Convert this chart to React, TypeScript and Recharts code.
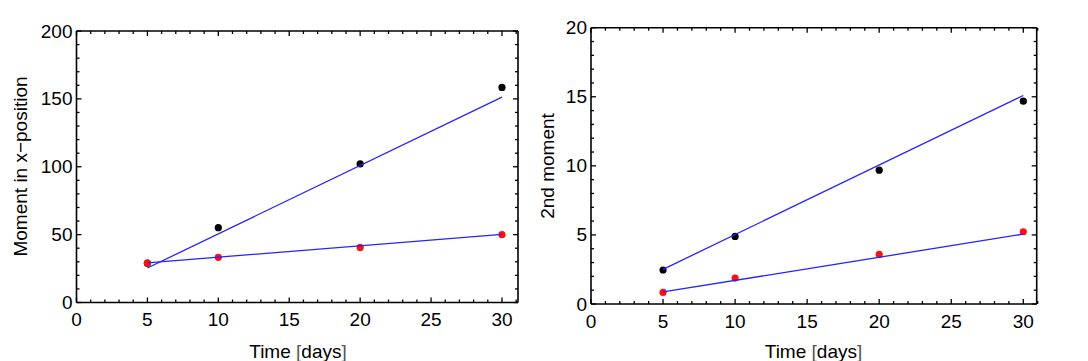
import { ScatterChart, Scatter, XAxis, YAxis } from 'recharts'

const FONT = '"Liberation Sans", Arial, Helvetica, sans-serif'

// left panel: first moment
const xDays = [5, 10, 20, 30]
const momentBlack = [29, 55.1, 102.1, 158.4]
const momentRed = [29.1, 33.3, 40.6, 50.0]
const momentFitBlack = [25.4, 151.3]
const momentFitRed = [29.2, 50.2]

// right panel: second moment
const secondBlack = [2.46, 4.89, 9.69, 14.68]
const secondRed = [0.84, 1.88, 3.59, 5.23]
const secondFitBlack = [2.51, 15.09]
const secondFitRed = [0.87, 5.06]

const fitX = [5, 30]

const xTicks = Array.from({ length: 32 }, (_, i) => i)
const leftYTicks = Array.from({ length: 21 }, (_, i) => i * 10)
const rightYTicks = Array.from({ length: 21 }, (_, i) => i)

const pts = (xs: number[], ys: number[]) => xs.map((x, i) => ({ x, y: ys[i] }))

const dot = (color: string) => (p: any) => <circle cx={p.cx} cy={p.cy} r={3.6} fill={color} />
const noDot = () => <g />

function makeTicks(majorEvery: number) {
  const isMajor = (v: number) => Math.abs(v / majorEvery - Math.round(v / majorEvery)) < 1e-6
  const Bottom = (p: any) => {
    const v = p.payload.value
    const len = isMajor(v) ? 5 : 3
    return (
      <g>
        <line x1={p.x} x2={p.x} y1={p.y} y2={p.y - len} stroke="#000" strokeWidth={1.3} />
        {isMajor(v) && (
          <text x={p.x} y={p.y + 23.5} textAnchor="middle" fontSize={19} fontFamily={FONT} fill="#000">
            {v}
          </text>
        )}
      </g>
    )
  }
  const Top = (p: any) => {
    const v = p.payload.value
    const len = isMajor(v) ? 5 : 3
    return <line x1={p.x} x2={p.x} y1={p.y} y2={p.y + len} stroke="#000" strokeWidth={1.3} />
  }
  return { Bottom, Top }
}

function makeYTicks(majorEvery: number) {
  const isMajor = (v: number) => Math.abs(v / majorEvery - Math.round(v / majorEvery)) < 1e-6
  const Left = (p: any) => {
    const v = p.payload.value
    const len = isMajor(v) ? 5 : 3
    return (
      <g>
        <line x1={p.x} x2={p.x + len} y1={p.y} y2={p.y} stroke="#000" strokeWidth={1.3} />
        {isMajor(v) && (
          <text x={p.x - 4} y={p.y + 6.5} textAnchor="end" fontSize={19} fontFamily={FONT} fill="#000">
            {v}
          </text>
        )}
      </g>
    )
  }
  const Right = (p: any) => {
    const v = p.payload.value
    const len = isMajor(v) ? 5 : 3
    return <line x1={p.x} x2={p.x - len} y1={p.y} y2={p.y} stroke="#000" strokeWidth={1.3} />
  }
  return { Left, Right }
}

const xt = makeTicks(5)
const ytLeft = makeYTicks(50)
const ytRight = makeYTicks(5)

const axisLine = { stroke: '#000', strokeWidth: 1.6 }
const blue = '#2424ff'

interface PanelProps {
  width: number
  margin: { top: number; left: number; right: number; bottom: number }
  xMax: number
  yMax: number
  yTicks: number[]
  yt: { Left: any; Right: any }
  black: number[]
  red: number[]
  fitBlack: number[]
  fitRed: number[]
}

// axes are 1px thick boxes; margins below are reduced by 1 to keep the plot frame in place
function Panel({ width, margin, xMax, yMax, yTicks, yt, black, red, fitBlack, fitRed }: PanelProps) {
  const m = { top: margin.top - 1, left: margin.left - 1, right: margin.right - 1, bottom: margin.bottom - 1 }
  return (
    <ScatterChart width={width} height={361} margin={m} style={{ overflow: 'visible' }}>
      <XAxis xAxisId="b" type="number" dataKey="x" domain={[0, xMax]} ticks={xTicks} interval={0}
        allowDataOverflow height={1} tickSize={0} tickMargin={0} tickLine={false} axisLine={axisLine} tick={xt.Bottom} />
      <XAxis xAxisId="t" orientation="top" type="number" dataKey="x" domain={[0, xMax]} ticks={xTicks} interval={0}
        allowDataOverflow height={1} tickSize={0} tickMargin={0} tickLine={false} axisLine={axisLine} tick={xt.Top} />
      <YAxis yAxisId="l" type="number" dataKey="y" domain={[0, yMax]} ticks={yTicks} interval={0}
        allowDataOverflow width={1} tickSize={0} tickMargin={0} tickLine={false} axisLine={axisLine} tick={yt.Left} />
      <YAxis yAxisId="r" orientation="right" type="number" dataKey="y" domain={[0, yMax]} ticks={yTicks} interval={0}
        allowDataOverflow width={1} tickSize={0} tickMargin={0} tickLine={false} axisLine={axisLine} tick={yt.Right} />
      <Scatter xAxisId="b" yAxisId="l" data={pts(xDays, black)} shape={dot('#000')} isAnimationActive={false} />
      <Scatter xAxisId="b" yAxisId="l" data={pts(xDays, red)} shape={dot('#ff1010')} isAnimationActive={false} />
      <Scatter xAxisId="b" yAxisId="l" data={pts(fitX, fitBlack)} shape={noDot} lineType="joint"
        line={{ stroke: blue, strokeWidth: 1.3 }} isAnimationActive={false} />
      <Scatter xAxisId="b" yAxisId="l" data={pts(fitX, fitRed)} shape={noDot} lineType="joint"
        line={{ stroke: blue, strokeWidth: 1.3 }} isAnimationActive={false} />
    </ScatterChart>
  )
}

function Title({ x, y, children, rotate }: { x: number; y: number; children: any; rotate?: boolean }) {
  return (
    <text x={x} y={y} textAnchor="middle" fontSize={19} fontFamily={FONT} fill="#000"
      transform={rotate ? `rotate(-90 ${x} ${y})` : undefined}>
      {children}
    </text>
  )
}

export default function App() {
  return (
    <div style={{ position: 'absolute', left: 0, top: 0, width: 1088, height: 361, background: '#fff' }}>
      <div style={{ position: 'absolute', left: 0, top: 0 }}>
        <Panel width={540} margin={{ top: 31, left: 76.5, right: 22, bottom: 58.5 }} xMax={31.13} yMax={200}
          yTicks={leftYTicks} yt={ytLeft} black={momentBlack} red={momentRed}
          fitBlack={momentFitBlack} fitRed={momentFitRed} />
      </div>
      <div style={{ position: 'absolute', left: 540, top: 0 }}>
        <Panel width={548} margin={{ top: 27.7, left: 51, right: 51.3, bottom: 57 }} xMax={30.93} yMax={20}
          yTicks={rightYTicks} yt={ytRight} black={secondBlack} red={secondRed}
          fitBlack={secondFitBlack} fitRed={secondFitRed} />
      </div>
      <svg width={1088} height={361} style={{ position: 'absolute', left: 0, top: 0, pointerEvents: 'none' }}>
        <Title x={298} y={357.5}>Time <tspan fill="#555">[</tspan>days<tspan fill="#555">]</tspan></Title>
        <Title x={813.5} y={358}>Time <tspan fill="#555">[</tspan>days<tspan fill="#555">]</tspan></Title>
        <Title x={27} y={166.5} rotate>Moment in x−position</Title>
        <Title x={554} y={166} rotate>2nd moment</Title>
      </svg>
    </div>
  )
}
